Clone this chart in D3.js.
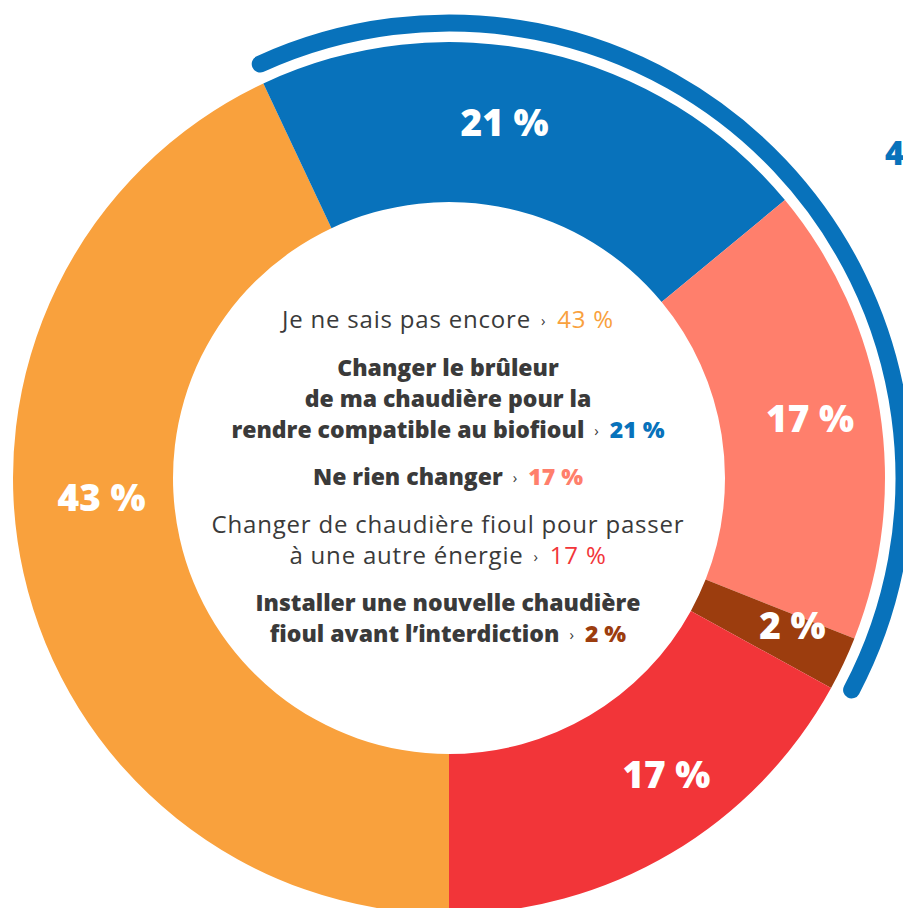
<!DOCTYPE html>
<html>
<head>
<meta charset="utf-8">
<script src="https://cdn.jsdelivr.net/npm/d3@7"></script>
<style>
  html, body { margin: 0; padding: 0; background: #fff; overflow: hidden; }
  svg { display: block; }
</style>
</head>
<body>
<svg id="chart" width="903" height="908"></svg>
<script>
// ---- data (slice order, clockwise from the bottom) ----
const categories = [
  "Je ne sais pas encore",
  "Changer le brûleur de ma chaudière pour la rendre compatible au biofioul",
  "Ne rien changer",
  "Installer une nouvelle chaudière fioul avant l’interdiction",
  "Changer de chaudière fioul pour passer à une autre énergie"
];
const categoryLines = [
  ["Je ne sais pas encore"],
  ["Changer le brûleur", "de ma chaudière pour la", "rendre compatible au biofioul"],
  ["Ne rien changer"],
  ["Installer une nouvelle chaudière", "fioul avant l’interdiction"],
  ["Changer de chaudière fioul pour passer", "à une autre énergie"]
];
const values = [43, 21, 17, 2, 17];
const colors = ["#F9A13D", "#0872BB", "#FF7F6C", "#9C3D0E", "#F23539"];
const legendOrder = [0, 1, 2, 4, 3];
const groupedIdx = [1, 2, 3];      // slices covered by the outer bracket arc
const groupedLabel = "40 %";

// ---- layout / style ----
const W = 903, H = 908;
const cx = 449, cy = 478;
const R = 436, r0 = 276;
const textColor = "#3a3a3a";
const fontFamily = "'Open Sans', sans-serif";
const boldItems = new Set([1, 2, 3]);

const svg = d3.select("#chart");
const g = svg.append("g").attr("transform", `translate(${cx},${cy})`);

const pie = d3.pie().sort(null).value(d => d)
  .startAngle(Math.PI).endAngle(3 * Math.PI);
const arcs = pie(values);
const arc = d3.arc().innerRadius(r0).outerRadius(R);

g.selectAll("path.slice").data(arcs).join("path")
  .attr("class", "slice")
  .attr("d", arc)
  .attr("fill", (d, i) => colors[i]);

// outer bracket arc (open path so round caps apply)
const a0 = arcs[groupedIdx[0]].startAngle;
const a1 = arcs[groupedIdx[groupedIdx.length - 1]].endAngle;
const bracketR = 455;
const bracketW = 17;
const bp = d3.path();
bp.arc(0, 0, bracketR, a0 + 0.012 - Math.PI / 2, a1 - 0.018 - Math.PI / 2, false);
g.append("path")
  .attr("d", bp.toString())
  .attr("fill", "none")
  .attr("stroke", colors[1])
  .attr("stroke-width", bracketW)
  .attr("stroke-linecap", "round");

// bracket label
const midB = (a0 + a1) / 2 + 0.131;
g.append("text")
  .attr("x", Math.sin(midB) * 537)
  .attr("y", -Math.cos(midB) * 537)
  .attr("text-anchor", "start")
  .attr("font-family", fontFamily)
  .attr("font-weight", 800)
  .attr("font-size", 33)
  .attr("fill", colors[1])
  .text(groupedLabel);

// slice labels
const labelShift = [0.162, -0.065, -0.007, -0.033, -0.098]; // angular nudges (rad)
const labelR = [348, 360, 366, 374, 368];
g.selectAll("text.val").data(arcs).join("text")
  .attr("class", "val")
  .attr("x", (d, i) => Math.sin((d.startAngle + d.endAngle) / 2 + labelShift[i]) * labelR[i])
  .attr("y", (d, i) => -Math.cos((d.startAngle + d.endAngle) / 2 + labelShift[i]) * labelR[i])
  .attr("dy", "0.36em")
  .attr("text-anchor", "middle")
  .attr("font-family", fontFamily)
  .attr("font-weight", 800)
  .attr("font-size", 37)
  .attr("fill", "#fff")
  .text(d => d.data + " %");

// center legend text
const lineGap = 31, groupGap = 47.5;
let y = 328 - cy;
const center = g.append("g");
legendOrder.forEach(i => {
  const lines = categoryLines[i];
  const bold = boldItems.has(i);
  lines.forEach((ln, j) => {
    if (j > 0) y += lineGap;
    const t = center.append("text")
      .attr("x", -1)
      .attr("y", y)
      .attr("text-anchor", "middle")
      .attr("font-family", fontFamily)
      .attr("font-size", bold ? 23 : 24)
      .attr("letter-spacing", bold ? 0 : 0.8)
      .attr("font-weight", bold ? 800 : 400)
      .attr("fill", textColor);
    t.append("tspan").text(ln);
    if (j === lines.length - 1) {
      t.append("tspan").attr("dx", 10).attr("font-size", 15).attr("font-weight", 400)
        .attr("dy", -2).text("›");
      t.append("tspan").attr("dx", 11).attr("dy", 2).attr("fill", colors[i])
        .text(values[i] + " %");
    }
  });
  y += groupGap;
});
</script>
</body>
</html>
